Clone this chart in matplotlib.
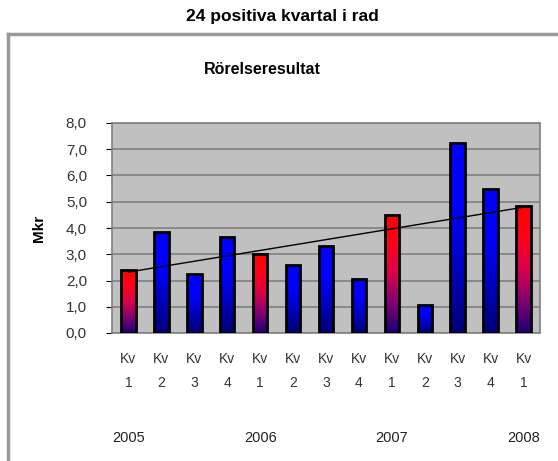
# Rörelseresultat per kvartal

import numpy as np
import matplotlib.pyplot as plt
from matplotlib.colors import LinearSegmentedColormap
from matplotlib.lines import Line2D

plt.rcParams['font.family'] = ['Liberation Sans', 'DejaVu Sans']

# Data ------------
kvartal = ["Kv\n1", "Kv\n2", "Kv\n3", "Kv\n4", "Kv\n1", "Kv\n2", "Kv\n3",
           "Kv\n4", "Kv\n1", "Kv\n2", "Kv\n3", "Kv\n4", "Kv\n1"]
resultat = [2.4, 3.85, 2.25, 3.65, 3.0, 2.6, 3.3, 2.05, 4.5, 1.07, 7.25, 5.5, 4.82]
rod = [True, False, False, False, True, False, False, False, True, False, False, False, True]
ar = ["2005", "2006", "2007", "2008"]
ar_pos = [0, 4, 8, 12]
# ----------------------

blaa = LinearSegmentedColormap.from_list("blaa", [(0, 0, 0.45), (0, 0, 0.75), (0, 0, 1), (0, 0, 1)])
roda = LinearSegmentedColormap.from_list("roda", [(0.1, 0, 0.45), (0.5, 0, 0.45), (0.85, 0, 0.3), (1, 0, 0.1), (1, 0, 0)])

fig = plt.figure(figsize=(5.58, 4.61), dpi=100)

# Ram runt diagrammet
fig.add_artist(Line2D([8/558, 8/558], [0, 1 - 34/461], color="#999999", lw=2.5))
fig.add_artist(Line2D([8/558, 1], [1 - 34/461, 1 - 34/461], color="#999999", lw=2.5))

fig.text(282/558, 1 - 17/461, "24 positiva kvartal i rad", ha="center", va="center",
         fontsize=12.5, fontweight="bold")
fig.text(262/558, 1 - 70/461, "Rörelseresultat", ha="center", va="center",
         fontsize=11.5, fontweight="bold")

ax = fig.add_axes([112/558, 128/461, 428/558, 210/461])
ax.set_facecolor("#C0C0C0")
for s in ax.spines.values():
    s.set_color("#808080")
    s.set_linewidth(1.2)

x = np.arange(len(resultat))
staplar = ax.bar(x, resultat, width=0.44, facecolor="none", edgecolor="black",
                 linewidth=2, zorder=3)

grad = np.linspace(0, 1, 256).reshape(-1, 1)
for bar, r in zip(staplar, rod):
    x0 = bar.get_x()
    h = bar.get_height()
    im = ax.imshow(grad, extent=[x0, x0 + bar.get_width(), 0, h], origin="lower",
                   aspect="auto", cmap=roda if r else blaa, zorder=2)
    im.set_clip_path(bar)

# Trendlinje
k, m = np.polyfit(x, resultat, 1)
ax.plot(x, k * x + m, color="black", lw=1, zorder=4)

ax.set_xlim(-0.5, len(resultat) - 0.5)
ax.set_ylim(0, 8)
ax.set_yticks(np.arange(0, 9, 1))
ax.set_yticklabels([f"{v:.1f}".replace(".", ",") for v in range(9)], color="#333333", fontsize=11)
ax.yaxis.grid(True, color="#808080", lw=1.2)
ax.set_axisbelow(True)
ax.tick_params(axis="y", length=4, color="black", pad=14)

ax.set_xticks(x)
ax.set_xticklabels(kvartal, fontsize=10, color="#333333", linespacing=1.9)
ax.tick_params(axis="x", length=0, pad=14)

for p, a in zip(ar_pos, ar):
    ax.text(p, -4.0, a, ha="center", va="center", fontsize=10.5, color="#222222")

ax.set_ylabel("Mkr", fontsize=11, fontweight="bold", labelpad=14)

fig.savefig("out.png", dpi=100)
